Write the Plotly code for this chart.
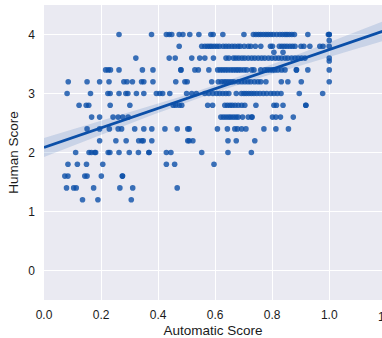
import numpy as np
import plotly.graph_objects as go

# ---- data: automatic scores at each human score level ----
auto_h40 = [0.263, 0.377, 0.429, 0.439, 0.448, 0.474, 0.487, 0.511, 0.543, 0.585, 0.593, 0.627,
            0.701, 0.734, 0.743, 0.752, 0.760, 0.769, 0.778, 0.786, 0.795, 0.804, 0.816, 0.827,
            0.836, 0.845, 0.852, 0.860, 0.869, 0.878, 0.925, 0.997, 1.0, 1.0]
auto_h39 = [1.0]
auto_h38 = [0.474, 0.553, 0.564, 0.573, 0.581, 0.588, 0.597, 0.606, 0.615, 0.628, 0.638, 0.648,
            0.659, 0.669, 0.680, 0.688, 0.702, 0.716, 0.725, 0.741, 0.760, 0.794, 0.801, 0.825,
            0.834, 0.843, 0.852, 0.862, 0.871, 0.880, 0.901, 0.911, 0.932, 0.967, 0.978, 1.0]
auto_h37 = [0.806, 0.838]
auto_h36 = [0.322, 0.439, 0.460, 0.518, 0.546, 0.564, 0.594, 0.638, 0.648, 0.664, 0.673, 0.683,
            0.694, 0.704, 0.716, 0.728, 0.739, 0.751, 0.763, 0.774, 0.787, 0.799, 0.811, 0.822,
            0.833, 0.845, 0.855, 0.868, 0.880, 0.891, 0.903, 0.915, 1.0]
auto_h355 = [1.0]
auto_h34 = [0.216, 0.225, 0.233, 0.263, 0.345, 0.382, 0.480, 0.480, 0.529, 0.541, 0.578, 0.609,
            0.618, 0.627, 0.636, 0.645, 0.655, 0.664, 0.673, 0.681, 0.690, 0.701, 0.711, 0.728,
            0.736, 0.760, 0.774, 0.783, 0.792, 0.801, 0.809, 0.820, 0.833, 0.845, 0.885, 0.885,
            0.925, 1.0]
auto_h32 = [0.085, 0.151, 0.195, 0.228, 0.280, 0.291, 0.310, 0.342, 0.350, 0.382, 0.462, 0.494,
            0.502, 0.588, 0.611, 0.622, 0.631, 0.639, 0.648, 0.657, 0.666, 0.681, 0.693, 0.704,
            0.715, 0.725, 0.738, 0.750, 0.760, 0.778, 0.832, 0.855, 0.902, 1.0]
auto_h30 = [0.081, 0.163, 0.224, 0.232, 0.263, 0.287, 0.294, 0.324, 0.350, 0.394, 0.406, 0.416,
            0.441, 0.500, 0.518, 0.534, 0.564, 0.578, 0.592, 0.605, 0.616, 0.627, 0.638, 0.648,
            0.674, 0.692, 0.701, 0.709, 0.718, 0.727, 0.736, 0.746, 0.757, 0.769, 0.781, 0.795,
            0.806, 0.818, 0.831, 0.895, 0.977]
auto_h28 = [0.123, 0.148, 0.157, 0.232, 0.301, 0.453, 0.462, 0.474, 0.483, 0.574, 0.591, 0.634,
            0.643, 0.652, 0.660, 0.670, 0.681, 0.693, 0.704, 0.743, 0.806, 0.815, 0.838, 0.918,
            0.918]
auto_h26 = [0.167, 0.195, 0.242, 0.260, 0.276, 0.295, 0.620, 0.629, 0.638, 0.647, 0.655, 0.664,
            0.673, 0.681, 0.696, 0.716, 0.729, 0.729, 0.801, 0.813, 0.829, 0.874]
auto_h24 = [0.151, 0.195, 0.229, 0.260, 0.272, 0.318, 0.350, 0.378, 0.424, 0.467, 0.504, 0.509,
            0.608, 0.643, 0.669, 0.678, 0.693, 0.708, 0.771, 0.813, 0.857]
auto_h22 = [0.195, 0.252, 0.288, 0.332, 0.343, 0.348, 0.378, 0.504, 0.509, 0.522, 0.645, 0.674,
            0.739]
auto_h20 = [0.111, 0.158, 0.166, 0.178, 0.181, 0.225, 0.231, 0.263, 0.299, 0.331, 0.368, 0.368,
            0.429, 0.445, 0.553, 0.645, 0.727]
auto_h18 = [0.084, 0.117, 0.149, 0.206, 0.429, 0.458, 0.596]
auto_h16 = [0.073, 0.084, 0.143, 0.151, 0.201, 0.275, 0.275]
auto_h14 = [0.079, 0.104, 0.113, 0.174, 0.266, 0.311, 0.467]
auto_h12 = [0.135, 0.189, 0.306]

human_levels = [4.0, 3.9, 3.8, 3.7, 3.6, 3.55, 3.4, 3.2, 3.0, 2.8, 2.6, 2.4, 2.2, 2.0, 1.8, 1.6, 1.4, 1.2]
auto_groups = [auto_h40, auto_h39, auto_h38, auto_h37, auto_h36, auto_h355, auto_h34, auto_h32,
               auto_h30, auto_h28, auto_h26, auto_h24, auto_h22, auto_h20, auto_h18, auto_h16,
               auto_h14, auto_h12]

x_tick_vals = [0.0, 0.2, 0.4, 0.6, 0.8, 1.0]
y_tick_vals = [0, 1, 2, 3, 4]
X_MAX = 1.185
Y_RANGE = [-0.5, 4.5]

xs, ys = [], []
for lvl, grp in zip(human_levels, auto_groups):
    xs += grp
    ys += [lvl] * len(grp)
xs = np.array(xs)
ys = np.array(ys)

# ---- linear regression with 95% confidence band ----
slope, intercept = np.polyfit(xs, ys, 1)
n = len(xs)
resid = ys - (slope * xs + intercept)
s = np.sqrt(np.sum(resid ** 2) / (n - 2))
xbar = xs.mean()
sxx = np.sum((xs - xbar) ** 2)
xgrid = np.linspace(0, 1.25, 120)
yfit = slope * xgrid + intercept
se = s * np.sqrt(1.0 / n + (xgrid - xbar) ** 2 / sxx)
lo = yfit - 1.97 * se
hi = yfit + 1.97 * se

COLOR = "rgb(11,79,168)"
BAND = "rgba(11,79,168,0.15)"
FONT = "Liberation Sans, Arial, Helvetica, sans-serif"

fig = go.Figure()
fig.add_trace(go.Scatter(x=xs, y=ys, mode="markers",
                         marker=dict(size=5.6, color=COLOR, opacity=0.8, line=dict(width=0)),
                         hoverinfo="skip", showlegend=False))
fig.add_trace(go.Scatter(x=xgrid, y=lo, mode="lines", line=dict(width=0, color=BAND),
                         hoverinfo="skip", showlegend=False))
fig.add_trace(go.Scatter(x=xgrid, y=hi, mode="lines", line=dict(width=0, color=BAND),
                         fill="tonexty", fillcolor=BAND, hoverinfo="skip", showlegend=False))
fig.add_trace(go.Scatter(x=xgrid, y=yfit, mode="lines", line=dict(width=2.8, color=COLOR),
                         hoverinfo="skip", showlegend=False))

fig.update_layout(
    width=382, height=338,
    margin=dict(l=44, r=0, t=5, b=38, autoexpand=False),
    paper_bgcolor="white",
    plot_bgcolor="#EAEAF2",
    font=dict(family=FONT, size=12, color="#1a1a1a"),
)
fig.update_xaxes(range=[0, X_MAX], tickvals=x_tick_vals, tickformat=".1f",
                 showgrid=True, gridcolor="white", gridwidth=1.2, zeroline=False,
                 showline=False, ticks="", ticklabelstandoff=6, automargin=False,
                 tickfont=dict(size=12),
                 title=dict(text="Automatic Score", font=dict(size=13.5), standoff=7))
fig.update_yaxes(range=Y_RANGE, tickvals=y_tick_vals,
                 showgrid=True, gridcolor="white", gridwidth=1.2, zeroline=False,
                 showline=False, ticks="", ticklabelstandoff=8, automargin=False,
                 tickfont=dict(size=12),
                 title=dict(text="Human Score", font=dict(size=13.5), standoff=6))

# partially visible tick label just past the right edge
fig.add_annotation(xref="paper", yref="paper", x=1.2 / X_MAX, y=0, yshift=-8,
                   text="1.2", showarrow=False, xanchor="center", yanchor="top",
                   font=dict(size=12, family=FONT, color="#1a1a1a"))

fig.write_html("out.html", config={"displayModeBar": False},
               post_script="document.body.style.margin='0';document.body.style.overflow='hidden';")
